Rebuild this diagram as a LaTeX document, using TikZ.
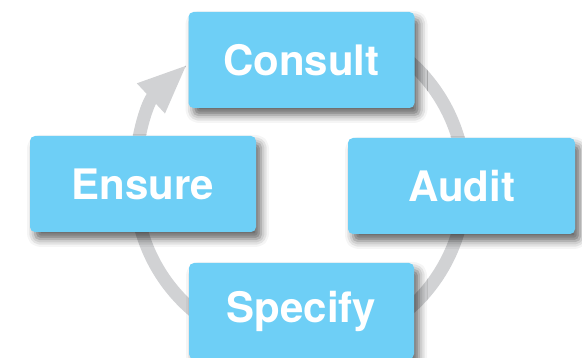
\documentclass[tikz,border=0pt]{standalone}
\usepackage{fontspec}
\setmainfont{TeX Gyre Heros}
\usetikzlibrary{arrows.meta,shadows.blur}
\definecolor{boxblue}{HTML}{6ECFF6}
\definecolor{ringgrey}{HTML}{D1D2D4}
\tikzset{
  stagebox/.style={rectangle, rounded corners=5pt, fill=boxblue, draw=none,
    minimum width=226pt, minimum height=96pt, inner sep=0pt,
    text=white, font=\fontsize{42}{50}\selectfont\bfseries,
    blur shadow={shadow xshift=5pt, shadow yshift=-7pt, shadow blur radius=8pt, shadow opacity=60}},
  ring/.style={ringgrey, line width=13pt,
    -{Triangle[length=50pt, width=37pt]}}
}
\begin{document}
\begin{tikzpicture}[x=1pt,y=1pt]
\useasboundingbox (0,0) rectangle (582,358);
\coordinate (ctr) at (300,173);
\draw[ring] ($(ctr)+(100:165)$) arc[start angle=100, end angle=-227, radius=165];
\node[stagebox] (consult) at (301.5,298) {Consult};
\node[stagebox, minimum width=227pt] (audit) at (461.5,172) {Audit};
\node[stagebox] (ensure) at (143,174) {Ensure};
\node[stagebox, minimum width=225pt] (specify) at (301.5,47) {Specify};
\end{tikzpicture}
\end{document}
